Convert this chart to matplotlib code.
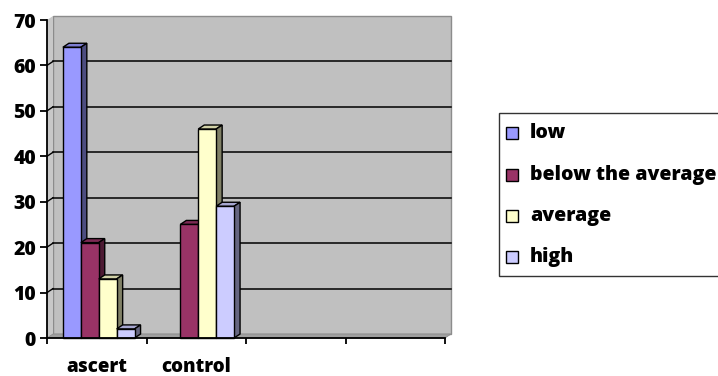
import numpy as np
import matplotlib
matplotlib.use("Agg")
import matplotlib.pyplot as plt
from matplotlib.patches import Polygon, Rectangle
from matplotlib import transforms
from matplotlib.colors import to_rgb

categories = ["ascert", "control", "", ""]
series = ["low", "below the average", "average", "high"]
values = {
    "low": [64, 0, 0, 0],
    "below the average": [21, 25, 0, 0],
    "average": [13, 46, 0, 0],
    "high": [2, 29, 0, 0],
}
colors = ["#9999FF", "#993366", "#FFFFCC", "#CCCCFF"]
yticks = [0, 10, 20, 30, 40, 50, 60, 70]

W, H, DPI = 718, 376, 100
FONT = "Open Sans"

fig = plt.figure(figsize=(W / DPI, H / DPI), dpi=DPI)
fig.patch.set_facecolor("white")

# plot box in pixels (front face)
x0, x1, ybot, ytop = 47, 445, 338, 20
ax = fig.add_axes([x0 / W, (H - ybot) / H, (x1 - x0) / W, (ybot - ytop) / H])
ax.set_xlim(0, len(categories))
ax.set_ylim(0, 70)
ax.patch.set_visible(False)
for s in ["top", "right"]:
    ax.spines[s].set_visible(False)
for s in ["left", "bottom"]:
    ax.spines[s].set_color("black")
    ax.spines[s].set_linewidth(1.3)
    ax.spines[s].set_zorder(10)

# depth offset of the 3d box, pixels
DX, DY = 6, 4
back = ax.transData + transforms.ScaledTranslation(DX / DPI, DY / DPI, fig.dpi_scale_trans)

ncat = len(categories)

# back wall
ax.add_patch(Rectangle((0, 0), ncat, 70, transform=back, facecolor="#C0C0C0",
                       edgecolor="#8C8C8C", lw=1.0, zorder=1, clip_on=False))

def face(points, **kw):
    # polygon from (x, y, depth) corners, depth 0 = front, 1 = back
    disp = []
    for (x, y, d) in points:
        px, py = ax.transData.transform((x, y))
        disp.append((px + d * DX, py + d * DY))
    p = Polygon(disp, closed=True, transform=None, clip_on=False, **kw)
    ax.add_artist(p)
    return p

# side wall and floor
face([(0, 0, 0), (0, 70, 0), (0, 70, 1), (0, 0, 1)], facecolor="#C8C8C8",
     edgecolor="none", zorder=1)
face([(0, 0, 0), (ncat, 0, 0), (ncat, 0, 1), (0, 0, 1)], facecolor="#A0A0A0",
     edgecolor="#8C8C8C", lw=0.6, zorder=1.5)

# gridlines on back wall with diagonal on side wall
for v in yticks[1:-1]:
    ax.plot([0, ncat], [v, v], color="black", lw=1.1, transform=back,
            zorder=2, clip_on=False)
    a = ax.transData.transform((0, v))
    ax.plot([a[0], a[0] + DX], [a[1], a[1] + DY], color="black", lw=1.0,
            transform=None, zorder=2, clip_on=False)

def shade(c, f):
    r, g, b = to_rgb(c)
    return (r * f, g * f, b * f)

# bars, left to right so each front face covers the previous side
bw = 0.18
start = 0.16
z = 3
for ci in range(ncat):
    for si, name in enumerate(series):
        v = values[name][ci]
        if v <= 0:
            continue
        xl = ci + start + si * bw
        xr = xl + bw
        col = colors[si]
        face([(xl, v, 0), (xr, v, 0), (xr, v, 1), (xl, v, 1)],
             facecolor=shade(col, 0.82), edgecolor="black", lw=1.0, zorder=z)
        face([(xr, 0, 0), (xr, v, 0), (xr, v, 1), (xr, 0, 1)],
             facecolor=shade(col, 0.5), edgecolor="black", lw=1.0, zorder=z)
        ax.bar(xl, v, width=bw, align="edge", color=col, edgecolor="black",
               lw=1.0, zorder=z + 0.5, clip_on=False)
        z += 1

# axes ticks
ax.set_yticks(yticks)
ax.set_yticklabels([str(t) for t in yticks], fontsize=14, fontweight="heavy",
                   family=FONT)
ax.tick_params(axis="y", length=5, width=1.3, pad=3, color="black")
ax.set_xticks(np.arange(ncat + 1))
ax.set_xticklabels([])
ax.tick_params(axis="x", which="major", length=4, width=1.3, color="black")
ax.set_xticks(np.arange(ncat) + 0.5, minor=True)
ax.set_xticklabels(categories, minor=True, fontsize=13.5, fontweight="heavy",
                   family=FONT)
ax.tick_params(axis="x", which="minor", length=0, pad=14)

# legend box
def fx(x):
    return x / W

def fy(y):
    return (H - y) / H

fig.add_artist(Rectangle((fx(499), fy(276)), fx(760) - fx(499), fy(113) - fy(276),
                         transform=fig.transFigure, facecolor="white",
                         edgecolor="#333333", lw=1.0, clip_on=False))
rows = [133, 175, 216, 257]
for name, col, yc in zip(series, colors, rows):
    fig.add_artist(Rectangle((fx(506), fy(yc + 6)), fx(518) - fx(506),
                             fy(yc - 6) - fy(yc + 6), transform=fig.transFigure,
                             facecolor=col, edgecolor="black", lw=1.0))
    fig.text(fx(530), fy(yc), name, fontsize=14, fontweight="heavy", family=FONT,
             va="center", ha="left")

fig.savefig("out.png", dpi=DPI)
